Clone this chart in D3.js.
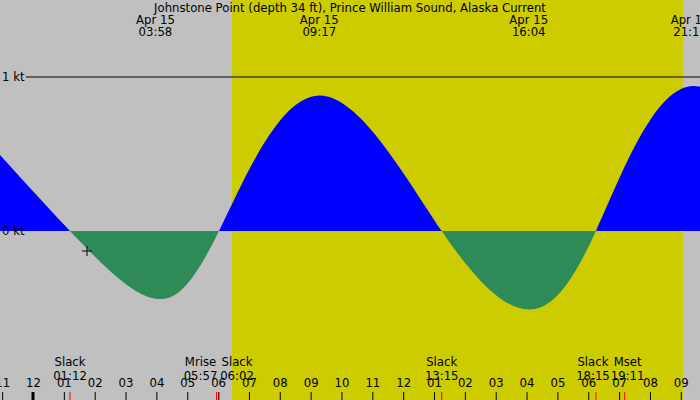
<!DOCTYPE html>
<html><head><meta charset="utf-8">
<script src="https://cdn.jsdelivr.net/npm/d3@7"></script>
<style>
body{margin:0;background:#c0c0c0}
text{font-family:"DejaVu Sans",sans-serif;font-size:11.7px;fill:#000}
</style></head><body>
<svg id="chart" width="700" height="400"></svg>
<script>
// hours since midnight Apr 15
const tideHours = [-2.9, 1.2, 3.97, 6.03, 9.28, 13.25, 16.07, 18.25, 21.3, 25.4];
const tideKnots = [0.9, 0, -0.44, 0, 0.88, 0, -0.51, 0, 0.94, 0];
const topTimes = [3.97, 9.28, 16.07, 21.3];
const topLabels = ["03:58", "09:17", "16:04", "21:18"];
const eventHours = [1.2, 5.95, 6.03, 13.25, 18.25, 19.18];
const eventNames = ["Slack", "Mrise", "Slack", "Slack", "Slack", "Mset"];
const eventLabels = ["01:12", "05:57", "06:02", "13:15", "18:15", "19:11"];
const hourLabels = ["11","12","01","02","03","04","05","06","07","08","09","10","11","12","01","02","03","04","05","06","07","08","09"];
const daylight = [6.45, 21.07];

const svg = d3.select("#chart");
const x = d3.scaleLinear().domain([0, 21]).range([33, 680.8]);
const y = d3.scaleLinear().domain([0, 1]).range([231, 77]);

svg.append("rect").attr("x", x(daylight[0])).attr("y", 0)
  .attr("width", x(daylight[1]) - x(daylight[0])).attr("height", 400).attr("fill", "#cccc00");

const pts = tideHours.map((h, i) => [h, tideKnots[i]]);
const area = d3.area().curve(d3.curveNatural).x(d => x(d[0])).y0(y(0)).y1(d => y(d[1]));
svg.append("clipPath").attr("id", "pos").append("rect").attr("x", 0).attr("y", 0).attr("width", 700).attr("height", y(0));
svg.append("clipPath").attr("id", "neg").append("rect").attr("x", 0).attr("y", y(0)).attr("width", 700).attr("height", 400);
svg.append("path").attr("d", area(pts)).attr("fill", "#0000ff").attr("clip-path", "url(#pos)");
svg.append("path").attr("d", area(pts)).attr("fill", "#2e8b57").attr("clip-path", "url(#neg)");

svg.append("line").attr("x1", 26).attr("x2", 700).attr("y1", y(1)).attr("y2", y(1)).attr("stroke", "#000");
svg.append("text").attr("x", 2).attr("y", y(1) + 4).text("1 kt");
svg.append("text").attr("x", 2).attr("y", y(0) + 4).text("0 kt");

svg.append("text").attr("x", 350).attr("y", 12).attr("text-anchor", "middle")
  .text("Johnstone Point (depth 34 ft), Prince William Sound, Alaska Current");
topTimes.forEach((h, i) => {
  const g = svg.append("g").attr("text-anchor", "middle");
  g.append("text").attr("x", x(h)).attr("y", 24).text("Apr 15");
  g.append("text").attr("x", x(h)).attr("y", 36).text(topLabels[i]);
});

// crosshair
svg.append("path").attr("d", "M82,251H92M87,246V256").attr("stroke", "#000");

// hour axis
const hours = d3.range(-1, 22);
const axis = d3.axisBottom(x).tickValues(hours).tickSize(-8).tickFormat((d, i) => hourLabels[i]);
const ag = svg.append("g").attr("transform", "translate(0,400)").call(axis);
ag.select(".domain").remove();
ag.selectAll(".tick line").attr("stroke", "#000");
ag.selectAll(".tick text").attr("dy", "-16px").style("font-size", "11.7px").attr("fill", "#000");
svg.append("rect").attr("x", x(0) - 1.5).attr("y", 392).attr("width", 3).attr("height", 8).attr("fill", "#000");

eventHours.forEach(h => {
  svg.append("line").attr("x1", x(h)).attr("x2", x(h)).attr("y1", 392).attr("y2", 400).attr("stroke", "#ff0000");
});
eventHours.forEach((h, i) => {
  const cx = i === 1 ? x(h) - 16 : i === 2 ? x(h) + 18 : i === 4 ? x(h) - 3 : i === 5 ? x(h) + 3 : x(h);
  svg.append("text").attr("x", cx).attr("y", 366).attr("text-anchor", "middle").text(eventNames[i]);
  svg.append("text").attr("x", cx).attr("y", 380).attr("text-anchor", "middle").text(eventLabels[i]);
});
</script></body></html>
